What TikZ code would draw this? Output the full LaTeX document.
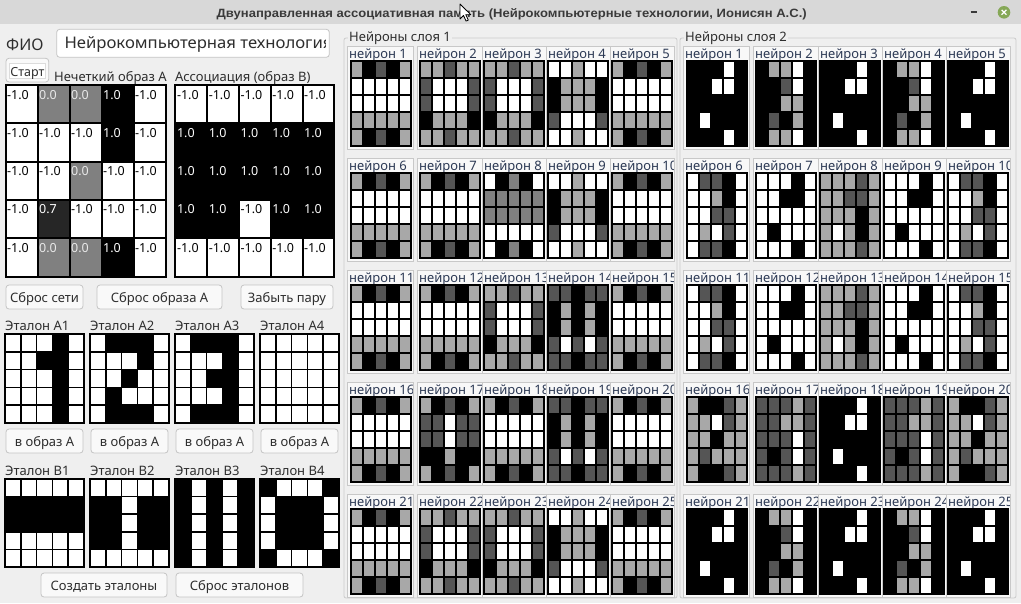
\documentclass[tikz,border=0pt]{standalone}
\usepackage{fontspec}
\setmainfont{Noto Sans}
\newfontfamily\titlefont{Liberation Sans}
\usepackage{graphicx}

\definecolor{colW}{HTML}{FFFFFF}
\definecolor{colL}{HTML}{A8A8A8}
\definecolor{colM}{HTML}{808080}
\definecolor{colD}{HTML}{555555}
\definecolor{colB}{HTML}{000000}
\definecolor{colK}{HTML}{262626}
\definecolor{tcolW}{HTML}{000000}
\definecolor{tcolM}{HTML}{EAEAEA}
\definecolor{tcolB}{HTML}{FFFFFF}
\definecolor{tcolK}{HTML}{FFFFFF}
\definecolor{winbg}{HTML}{EFEFEF}
\definecolor{titlebg}{HTML}{D8D8D8}
\definecolor{titletxt}{HTML}{3A3A3A}
\definecolor{uitxt}{HTML}{2E2E2E}
\definecolor{navytxt}{HTML}{2D3A55}
\definecolor{btnfill}{HTML}{F9F9F9}
\definecolor{btnline}{HTML}{C4C4C4}
\definecolor{framecol}{HTML}{CBCBCB}
\definecolor{panelfill}{HTML}{F8F8F8}
\definecolor{panelline}{HTML}{C8C8C8}
\definecolor{closegreen}{HTML}{86A857}

\newcommand\valfont{\fontsize{12.5}{14}\selectfont}
\newcommand\uifont{\fontsize{13}{15}\selectfont}

% layer 1 patterns
\def\patPa{L,B,D,B,L,W,W,W,W,W,W,W,W,W,W,L,L,L,L,L,L,B,D,B,L}
\def\patPb{L,L,D,L,L,D,W,W,W,D,D,W,W,W,D,B,L,L,L,B,L,L,D,L,L}
\def\patPd{W,W,L,W,W,B,L,L,L,B,B,L,L,L,B,D,W,W,W,D,W,W,L,W,W}
\def\patPh{W,B,M,B,W,M,M,M,M,M,M,M,M,M,M,W,W,W,W,W,W,B,M,B,W}
\def\patPn{D,D,B,D,D,B,L,B,L,B,B,L,B,L,B,D,W,D,W,D,D,D,B,D,D}
\def\patPq{L,B,D,B,L,D,D,W,D,D,D,D,W,D,D,B,B,L,B,B,L,B,D,B,L}
% layer 2 patterns
\def\patQa{B,B,B,W,B,B,B,W,W,B,B,B,B,B,B,B,W,B,B,B,B,B,B,W,B}
\def\patQb{B,L,L,W,B,B,B,D,W,B,B,B,L,L,B,B,D,B,L,B,B,L,L,W,B}
\def\patQf{W,D,D,B,W,W,W,L,B,W,W,W,D,D,W,W,L,W,D,W,W,D,D,B,W}
\def\patQg{W,W,W,B,W,W,W,B,B,W,W,W,W,W,W,W,B,W,W,W,W,W,W,B,W}
\def\patQh{L,L,L,D,L,L,L,D,D,L,L,L,L,B,L,L,W,L,B,L,L,L,L,D,L}
\def\patQp{L,B,B,D,L,L,L,W,D,L,L,L,B,L,L,L,D,L,L,L,L,B,B,D,L}
\def\patQq{D,D,D,L,D,D,D,L,L,D,D,D,D,W,D,D,B,D,W,D,D,D,D,L,D}
% etalons
\def\patEa{W,W,W,B,W,W,W,B,B,W,W,W,W,B,W,W,W,W,B,W,W,W,W,B,W}
\def\patEb{W,B,B,B,W,W,W,W,B,W,W,W,B,W,W,W,B,W,W,W,W,B,B,B,W}
\def\patEc{W,B,B,B,W,W,W,W,B,W,W,W,B,B,W,W,W,W,B,W,W,B,B,B,W}
\def\patEd{W,W,W,W,W,W,W,W,W,W,W,W,W,W,W,W,W,W,W,W,W,W,W,W,W}
\def\patFa{W,W,W,W,W,B,B,B,B,B,B,B,B,B,B,W,W,W,W,W,W,W,W,W,W}
\def\patFb{W,W,W,W,W,B,B,W,B,B,B,B,W,B,B,B,B,W,B,B,W,W,W,W,W}
\def\patFc{B,W,B,W,B,B,W,B,W,B,B,W,B,W,B,B,W,B,W,B,B,W,B,W,B}
\def\patFd{B,W,W,W,B,W,B,B,B,W,W,B,B,B,W,W,B,B,B,W,B,W,W,W,B}
% value grids
\def\valA{W/-1.0,M/0.0,M/0.0,B/1.0,W/-1.0,W/-1.0,W/-1.0,W/-1.0,B/1.0,W/-1.0,W/-1.0,W/-1.0,M/0.0,W/-1.0,W/-1.0,W/-1.0,K/0.7,W/-1.0,W/-1.0,W/-1.0,W/-1.0,M/0.0,M/0.0,B/1.0,W/-1.0}
\def\valB{W/-1.0,W/-1.0,W/-1.0,W/-1.0,W/-1.0,B/1.0,B/1.0,B/1.0,B/1.0,B/1.0,B/1.0,B/1.0,B/1.0,B/1.0,B/1.0,B/1.0,B/1.0,W/-1.0,B/1.0,B/1.0,W/-1.0,W/-1.0,W/-1.0,W/-1.0,W/-1.0}

\tikzset{
  gridline/.style={draw=black, line cap=rect},
  btn/.style={draw=btnline, fill=btnfill, rounded corners=3pt, line width=0.8pt},
  btntxt/.style={anchor=base, inner sep=0pt, text=uitxt, font=\uifont},
  lbl/.style={anchor=base west, inner sep=0pt, text=uitxt, font=\uifont},
  nlbl/.style={anchor=base west, inner sep=0pt, text=navytxt, font=\uifont},
  nbox/.style={draw=panelline, fill=panelfill, line width=0.8pt},
  gframe/.style={draw=framecol, rounded corners=2pt, line width=0.8pt},
}

% pattern grid: x, y, w, h, pattern name, line width
\newcommand\pgridd[6]{%
  \edef\curlist{\csname pat#5\endcsname}%
  \foreach \cc [count=\ii from 0] in \curlist {%
    \pgfmathtruncatemacro\cx{mod(\ii,5)}%
    \pgfmathtruncatemacro\cy{\ii/5}%
    \fill[col\cc] ({#1+\cx*(#3)/5},{#2+\cy*(#4)/5}) rectangle ++({(#3)/5},{(#4)/5});%
  }%
  \foreach \kk in {0,...,5} {%
    \draw[gridline, line width=#6] ({#1+\kk*(#3)/5},{#2}) -- ++(0,#4);%
    \draw[gridline, line width=#6] ({#1},{#2+\kk*(#4)/5}) -- ++(#3,0);%
  }%
}
% value grid: x, y, w, h, list name
\newcommand\vgrid[5]{%
  \edef\curlist{\csname val#5\endcsname}%
  \foreach \cc/\vv [count=\ii from 0] in \curlist {%
    \pgfmathtruncatemacro\cx{mod(\ii,5)}%
    \pgfmathtruncatemacro\cy{\ii/5}%
    \fill[col\cc] ({#1+\cx*(#3)/5},{#2+\cy*(#4)/5}) rectangle ++({(#3)/5},{(#4)/5});%
  }%
  \foreach \kk in {0,...,5} {%
    \draw[gridline, line width=2pt] ({#1+\kk*(#3)/5},{#2}) -- ++(0,#4);%
    \draw[gridline, line width=2pt] ({#1},{#2+\kk*(#4)/5}) -- ++(#3,0);%
  }%
  \foreach \cc/\vv [count=\ii from 0] in \curlist {%
    \pgfmathtruncatemacro\cx{mod(\ii,5)}%
    \pgfmathtruncatemacro\cy{\ii/5}%
    \node[anchor=base west, inner sep=0pt, text=tcol\cc, font=\valfont] (v#5\ii) at ({#1+\cx*(#3)/5+1.5},{#2+\cy*(#4)/5+14}) {\vv};%
  }%
}
% button: name, x1, y1, x2, y2, text
\newcommand\uibutton[6]{%
  \draw[btn] (#2,#3) rectangle (#4,#5);%
  \node[btntxt] (#1) at ({(#2+#4)/2},{#5-6.7}) {#6};%
}
% neuron: x offset, row, column, pattern
\newcommand\nrn[4]{%
  \pgfmathtruncatemacro\bL{{347,417,482,546,610}[#3-1]+#1}%
  \pgfmathtruncatemacro\bR{{413,482,546,610,674}[#3-1]+#1}%
  \pgfmathtruncatemacro\gX{{351,420,484,548,612}[#3-1]+#1}%
  \pgfmathtruncatemacro\tY{46+112*#2}%
  \pgfmathtruncatemacro\nN{5*#2+#3}%
  \draw[nbox] (\bL,\tY) rectangle (\bR,\tY+103);%
  \begin{scope}%
    \clip (\bL,\tY) rectangle (\bR-0.5,\tY+14.5);%
    \node[nlbl] (n#1x\nN) at (\bL+2,\tY+12) {нейрон \nN};%
  \end{scope}%
  \pgridd{\gX}{\tY+15}{60}{85}{#4}{1.6pt}%
}
\newcommand\nrow[7]{\nrn{#1}{#2}{1}{#3}\nrn{#1}{#2}{2}{#4}\nrn{#1}{#2}{3}{#5}\nrn{#1}{#2}{4}{#6}\nrn{#1}{#2}{5}{#7}}

\begin{document}
\begin{tikzpicture}[x=1pt,y=-1pt]
\useasboundingbox (0,0) rectangle (1021,603);
\fill[winbg] (0,0) rectangle (1021,603);
% title bar
\fill[titlebg] (0,0) rectangle (1021,24);
\node[anchor=base west, inner sep=0pt, text=titletxt] (title) at (216.5,17.3)
  {\resizebox{590pt}{\height}{\titlefont\fontsize{12}{13}\selectfont\bfseries Двунаправленная ассоциативная память (Нейрокомпьютерные технологии, Ионисян А.С.)}};
\draw[line width=1.8pt, titletxt] (970.7,12.3) -- (976.7,12.3);
\fill[closegreen] (1004,12.3) circle (6.3pt);
\draw[white, line width=1.3pt] (1001.6,9.9) -- (1006.4,14.7) (1001.6,14.7) -- (1006.4,9.9);
% mouse cursor
\coordinate (cur) at (460,4);
\draw[fill=white, line width=0.8pt, line join=round] (cur) -- ++(0,15) -- ++(3.5,-3.5) -- ++(2.6,5.6) -- ++(2.2,-1) -- ++(-2.5,-5.4) -- ++(5,0) -- cycle;

% FIO
\node[anchor=base west, inner sep=0pt, text=uitxt, font=\fontsize{16}{18}\selectfont] (fiolbl) at (6,50.7) {ФИО};
\draw[draw=btnline, fill=white, rounded corners=3pt, line width=0.8pt] (56.7,29.3) rectangle (329.3,57.3);
\begin{scope}
  \clip (58,30) rectangle (325,56);
  \node[anchor=base west, inner sep=0pt, text=uitxt] (fio) at (64.3,48.5)
    {\resizebox{268pt}{\height}{\fontsize{16}{18}\selectfont Нейрокомпьютерная технология}};
\end{scope}
% start button
\draw[btn] (6,58.3) rectangle (48.7,82);
\draw[draw=btnline!60, fill=white, line width=0.6pt] (9.3,63.5) rectangle (45.3,78.5);
\node[btntxt, font=\fontsize{12.5}{14}\selectfont] (start) at (27.3,76) {Старт};

% labels and value grids
\node[lbl] (labA) at (54,81.7) {Нечеткий образ A};
\node[lbl] (labB) at (175,81.7) {Ассоциация (образ B)};
\vgrid{5.5}{85}{160}{191.5}{A}
\vgrid{175.3}{85}{159}{191.5}{B}

% buttons row
\uibutton{bnet}{6}{285}{83}{309}{Сброс сети}
\uibutton{bimg}{97}{285}{222}{309}{Сброс образа A}
\uibutton{bfor}{241}{285}{333}{309}{Забыть пару}

% etalons
\foreach \x/\pa/\pb/\k in {5/Ea/Fa/1, 90/Eb/Fb/2, 175/Ec/Fc/3, 260/Ed/Fd/4} {
  \node[lbl] (ela\k) at (\x,330.7) {Эталон A\k};
  \pgridd{\x}{334}{79}{89}{\pa}{1.5pt}
  \uibutton{toa\k}{\x+1}{429}{\x+78}{453}{в образ A}
  \node[lbl] (elb\k) at (\x,475) {Эталон B\k};
  \pgridd{\x}{479}{79}{88}{\pb}{1.5pt}
}
\uibutton{bmake}{41}{573}{167}{597}{Создать эталоны}
\uibutton{breset}{176}{573}{303}{597}{Сброс эталонов}

% group boxes
\draw[gframe] (344,38) rectangle (677,598);
\draw[gframe] (680,38) rectangle (1016,598);
\node[lbl, fill=winbg, inner sep=1pt] (g1) at (348,41.7) {Нейроны слоя 1};
\node[lbl, fill=winbg, inner sep=1pt] (g2) at (684,41.7) {Нейроны слоя 2};

% neurons layer 1
\nrow{0}{0}{Pa}{Pb}{Pb}{Pd}{Pa}
\nrow{0}{1}{Pa}{Pa}{Ph}{Pd}{Pa}
\nrow{0}{2}{Pa}{Pa}{Pb}{Pn}{Pa}
\nrow{0}{3}{Pa}{Pq}{Pa}{Pn}{Pa}
\nrow{0}{4}{Pa}{Pb}{Pb}{Pd}{Pa}
% neurons layer 2
\nrow{336}{0}{Qa}{Qb}{Qa}{Qb}{Qa}
\nrow{336}{1}{Qf}{Qg}{Qh}{Qg}{Qf}
\nrow{336}{2}{Qf}{Qg}{Qh}{Qg}{Qf}
\nrow{336}{3}{Qp}{Qq}{Qa}{Qq}{Qp}
\nrow{336}{4}{Qa}{Qb}{Qa}{Qb}{Qa}
\end{tikzpicture}
\end{document}
